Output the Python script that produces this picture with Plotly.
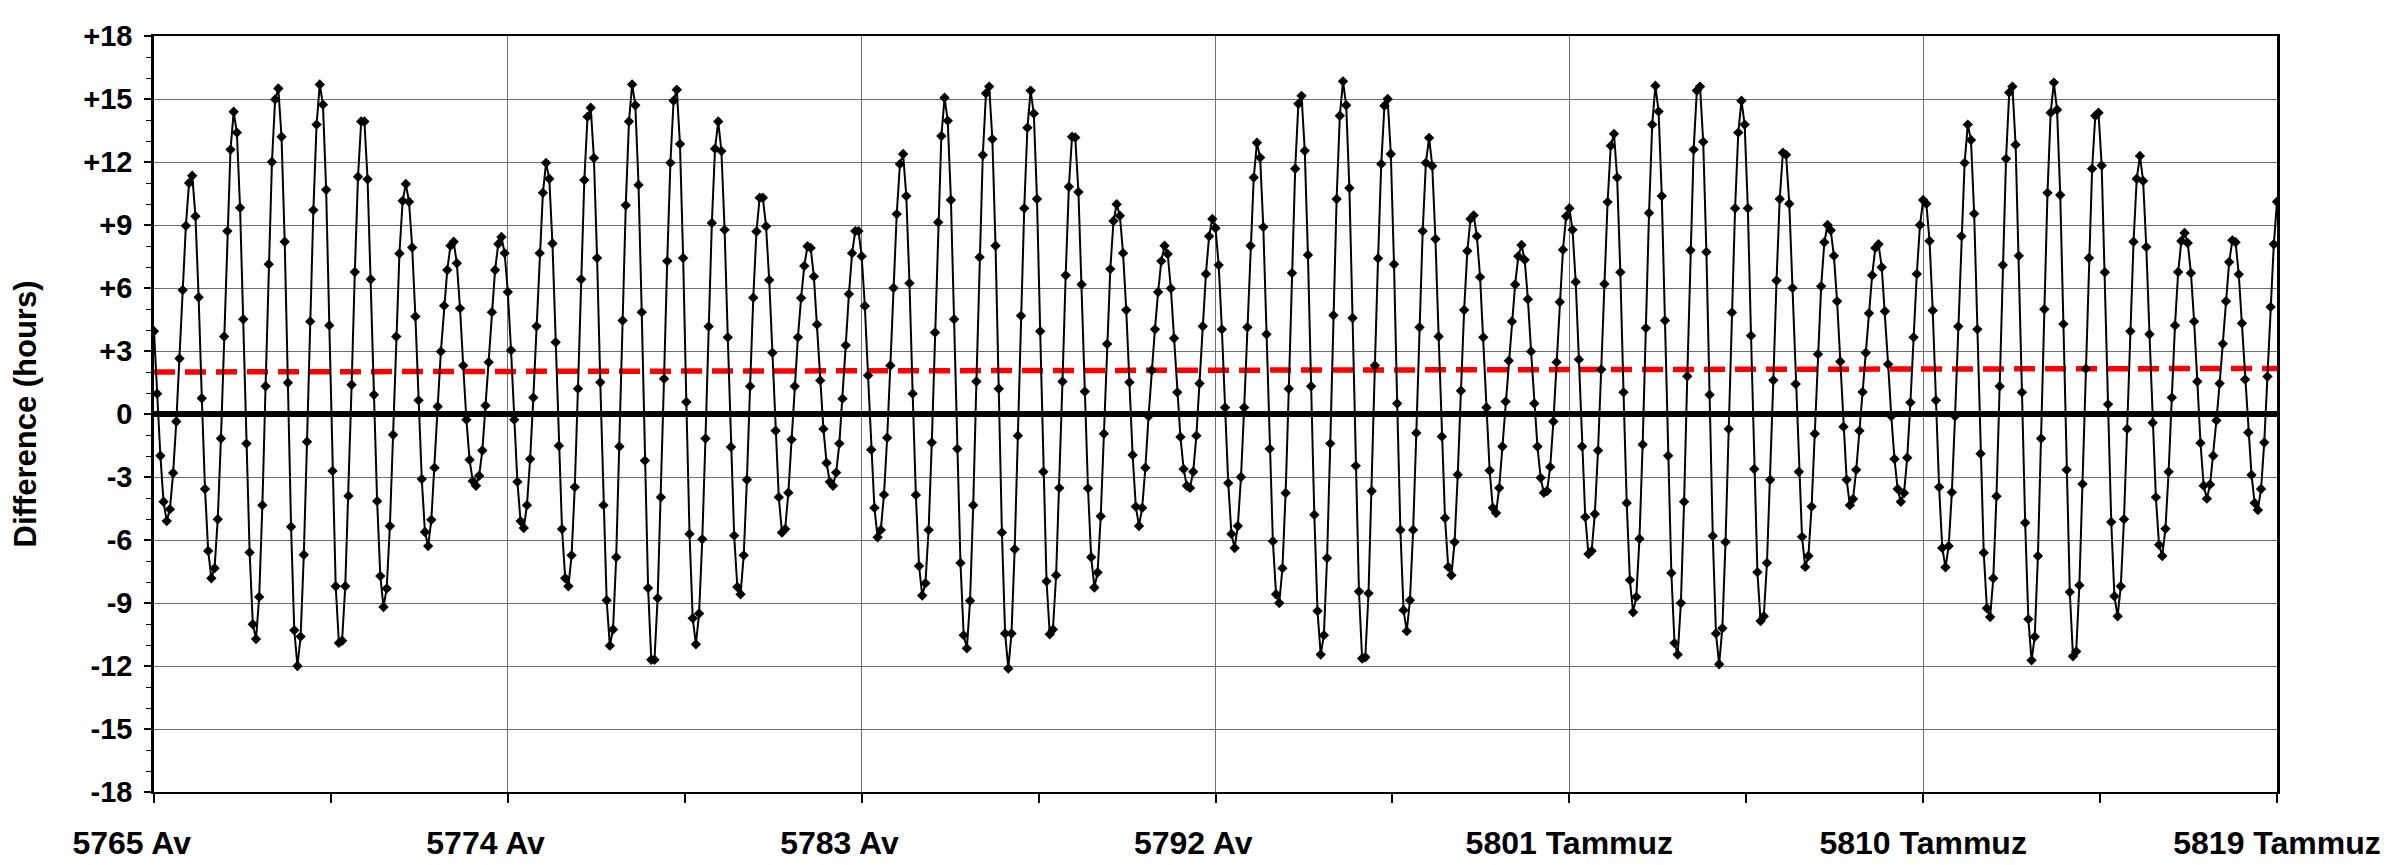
import plotly.graph_objects as go

# Difference (hours), one value per month
seg_5765 = [3.94, 0.97, -1.99, -4.18, -5.10, -4.53, -2.81, -0.36, 2.64, 5.90, 8.96, 11.0, 11.35, 9.42,
            5.56, 0.75, -3.57, -6.52, -7.82, -7.34, -5.01, -1.17, 3.69, 8.71, 12.59, 14.39, 13.40, 9.82,
            4.51, -1.41, -6.59, -10.01, -10.72, -8.71, -4.34, 1.32, 7.13, 12.0, 14.98, 15.50, 13.20, 8.20,
            1.49, -5.37, -10.30, -12.0, -10.6, -6.7, -1.32, 4.41, 9.71, 13.78, 15.69, 14.73, 10.68, 4.22,
            -2.71]
seg_b = [-8.2, -10.9, -10.8, -8.2, -3.9, 1.39, 6.76, 11.3, 13.93, 13.93, 11.18, 6.42, 0.92, -4.15,
         -7.72, -9.19, -8.31, -5.33, -0.99, 3.69, 7.64, 10.15, 10.95, 10.11, 7.93, 4.64, 0.65, -3.1,
         -5.62, -6.29, -5.04, -2.56, 0.36, 2.98, 5.16, 6.86, 8.01, 8.2, 7.18, 5.03, 2.31, -0.27, -2.18,
         -3.19, -3.42, -2.94, -1.74, 0.4, 2.47, 4.85, 6.86, 8.1, 8.43, 7.66, 5.81, 3.04]
seg_c = [-0.27, -3.23, -5.1, -5.43, -4.34, -2.14, 0.78, 4.18, 7.66, 10.53, 11.96, 11.2, 8.12, 3.42,
         -1.51, -5.48, -7.82, -8.2, -6.73, -3.48, 1.2, 6.42, 11.14, 14.16, 14.58, 12.19, 7.43, 1.51,
         -4.34, -8.87, -11.03, -10.26, -6.82, -1.55, 4.45, 9.94, 13.93, 15.69, 14.7, 10.91, 4.85, -2.22,
         -8.29, -11.7, -11.7, -8.77, -3.96, 1.68, 7.28, 11.96, 14.92, 15.44, 12.86, 7.43, 0.57, -5.71]
seg_d = [-9.73, -10.97, -9.5, -5.96, -1.17, 4.17, 9.1, 12.63, 13.93, 12.52, 8.77, 3.65, -1.57, -5.79,
         -8.24, -8.58, -6.73, -3.13, 1.32, 5.54, 8.69, 10.3, 10.3, 8.94, 6.38, 2.92, -0.8, -3.96, -5.64,
         -5.48, -3.75, -1.22, 1.32, 3.65, 5.52, 7.05, 7.99, 7.91, 6.55, 4.26, 1.6, -0.71, -2.33, -3.23,
         -3.42, -2.79, -1.41, 0.73, 3.27, 5.71, 7.66, 8.71, 8.71, 7.51, 5.14, 1.83]
seg_e = [-1.7, -4.47, -5.87, -5.52, -3.84, -1.13, 2.31, 6.0, 9.52, 11.9, 12.38, 10.38, 6.23, 0.97,
         -3.86, -7.24, -8.64, -8.06, -5.52, -1.36, 3.88, 9.13, 13.24, 15.06, 13.97, 10.19, 4.51, -1.66,
         -7.09, -10.53, -11.16, -8.89, -4.34, 1.55, 7.47, 12.33, 15.27, 15.59, 13.09, 8.01, 1.2, -5.64,
         -10.45, -12.12, -10.45, -6.44, -1.03, 4.68, 9.8, 13.63, 15.4, 14.31, 10.24, 3.94, -2.75]
seg_f = [-7.97, -10.49, -10.26, -7.68, -3.52, 1.55, 6.61, 10.82, 13.2, 13.17, 10.57, 6.17, 1.07, -3.54,
         -6.82, -8.26, -7.55, -4.87, -0.94, 3.33, 6.9, 9.19, 9.99, 9.44, 7.66, 4.95, 1.51, -1.95, -4.41,
         -5.33, -4.47, -2.56, -0.11, 2.08, 4.03, 5.81, 7.28, 8.01, 7.62, 5.98, 3.61, 1.03, -1.09, -2.62,
         -3.42, -3.52, -2.75, -1.03, 1.45, 4.18, 6.67, 8.47, 9.29, 8.85, 7.09, 4.03]
seg_g = [0.31, -3.29, -5.71, -6.38, -5.33, -3.0, 0.31, 4.13, 8.01, 11.26, 12.92, 12.21, 8.9, 3.8, -1.66,
         -6.06, -8.58, -9.0, -7.34, -3.76, 1.2, 6.71, 11.68, 14.77, 15.15, 12.54, 7.57, 1.32, -4.8,
         -9.38, -11.45, -10.53, -6.86, -1.41, 4.7, 10.24, 14.2, 15.84, 14.7, 10.76, 4.57, -2.47, -8.45,
         -11.64, -11.58, -8.54, -3.67, 2.31, 7.41, 11.91, 14.68, 15.0, 12.38, 7.13, 0.5]
seg_h = [-5.52, -9.34, -10.34, -8.87, -5.52, -0.9, 4.13, 8.71, 11.96, 13.15, 11.81, 8.33, 3.69, -1.07,
         -4.95, -7.28, -7.68, -6.1, -2.89, 1.11, 4.95, 7.76, 9.29, 9.46, 8.47, 6.52, 3.65, 0.31, -2.69,
         -4.47, -4.72, -3.52, -1.55, 0.59, 2.54, 4.41, 6.17, 7.51, 8.05, 7.34, 5.47, 2.98, 0.5, -1.55,
         -3.04, -3.75, -3.67, -2.52, -0.36, 2.47, 5.33, 7.82, 9.42, 9.8, 8.77, 6.29]
seg_i = [2.6, -1.55, -4.91, -6.67, -6.52, -4.76, -1.74, 2.12, 6.19, 10.09, 12.77, 13.34, 11.26, 6.75,
         1.03, -4.24, -7.91, -9.44, -8.71, -5.94, -1.45, 4.09, 9.57, 13.78, 15.63, 14.41, 10.38, 4.45,
         -1.99, -7.57, -10.91, -11.45, -9.0, -4.18, 1.8, 7.8, 12.59, 15.4, 15.59, 12.96, 7.72, 0.92,
         -5.81, -10.45, -11.92, -10.2, -6.1, -0.71, 4.83, 9.8, 13.4, 14.92, 13.78, 9.8, 3.73, -2.62]
seg_j = [-7.53, -9.86, -9.63, -7.09, -3.13, 1.61, 6.36, 10.24, 12.44, 12.34, 10.01, 6.0, 1.43, -2.75,
         -5.85, -7.28, -6.76, -4.41, -0.94, 2.85, 6.08, 8.18, 9.0, 8.75, 7.53, 5.37, 2.5, -0.61, -3.13,
         -4.34, -4.05, -2.66, -0.8, 1.05, 2.92, 4.8, 6.61, 7.91, 8.08, 6.99, 4.89, 2.37, -0.11, -2.14,
         -3.57, -4.18, -3.76, -2.08, 0.55, 3.65, 6.67, 9.0, 10.19, 10.01, 8.24, 4.93]
seg_k = [0.65, -3.48, -6.38, -7.3, -6.29, -3.73, -0.11, 4.17, 8.47, 11.96, 13.78, 13.05, 9.54, 4.03,
         -1.89, -6.61, -9.25, -9.67, -7.82, -3.92, 1.32, 7.09, 12.15, 15.31, 15.59, 12.82, 7.53, 1.03,
         -5.18, -9.77, -11.73, -10.61, -6.76, -1.17, 4.99, 10.53, 14.35, 15.78, 14.49, 10.43, 4.28,
         -2.66, -8.48, -11.54, -11.31, -8.16, -3.33, 2.16, 7.43, 11.68, 14.2, 14.35, 11.83, 6.75, 0.46,
         -5.14]
seg_l = [-8.68, -9.63, -8.2, -5.01, -0.71, 3.94, 8.2, 11.2, 12.29, 11.1, 7.95, 3.8, -0.42, -3.96,
         -6.23, -6.76, -5.47, -2.75, 0.78, 4.22, 6.76, 8.24, 8.62, 8.14, 6.71, 4.41, 1.55, -1.38, -3.42,
         -4.03, -3.36, -1.99, -0.31, 1.45, 3.34, 5.37, 7.24, 8.27, 8.18, 6.65, 4.32, 1.64, -0.88, -2.9,
         -4.24, -4.57, -3.57, -1.36, 1.78, 5.1, 8.08, 10.11]

diff_hours = (seg_5765 + seg_b + seg_c + seg_d + seg_e + seg_f + seg_g + seg_h + seg_i + seg_j
              + seg_k + seg_l)

# average (red dashed) line: value at start and end
trend_start = 2.0
trend_end = 2.17

x_tick_labels = ["5765 Av", "5774 Av", "5783 Av", "5792 Av",
                 "5801 Tammuz", "5810 Tammuz", "5819 Tammuz"]
y_tick_values = list(range(-18, 19, 3))
y_tick_labels = [("+%d" % v) if v > 0 else str(v) for v in y_tick_values]

n = len(diff_hours)
months = list(range(n))
last = n - 1
step = last / (len(x_tick_labels) - 1)
x_tick_vals = [i * step for i in range(len(x_tick_labels))]
x_minor_vals = [(i + 0.5) * step for i in range(len(x_tick_labels) - 1)]
# the short "Av" labels sit slightly left of their gridline in the reference
x_tick_text = [t + ("\u00a0" * 5 if t.endswith("Av") else "") for t in x_tick_labels]

FONT = "Liberation Sans, Arial, sans-serif"
GRID = "#6e6e6e"

fig = go.Figure()
fig.add_trace(go.Scatter(
    x=[0, last], y=[trend_start, trend_end], mode="lines",
    line=dict(color="#ff0000", width=5.5, dash="21px,10px"),
    hoverinfo="skip", showlegend=False))
fig.add_trace(go.Scatter(
    x=months, y=diff_hours, mode="lines+markers",
    line=dict(color="black", width=2),
    marker=dict(symbol="diamond", size=8, color="black"),
    showlegend=False))

fig.update_layout(
    width=2404, height=865,
    margin=dict(l=146, r=135, t=28, b=68),
    paper_bgcolor="white", plot_bgcolor="white",
    font=dict(family=FONT, color="black"),
    showlegend=False,
)
fig.update_xaxes(
    range=[0, last], tickmode="array", tickvals=x_tick_vals, ticktext=x_tick_text,
    tickfont=dict(size=32, weight="bold", family=FONT, color="black"),
    ticks="outside", ticklen=9, tickwidth=1.5, tickcolor="black", ticklabelstandoff=13,
    showgrid=True, gridcolor=GRID, gridwidth=1.2,
    showline=True, linecolor="black", linewidth=2, mirror=True,
    zeroline=False,
    minor=dict(tickmode="array", tickvals=x_minor_vals, ticks="outside", ticklen=9,
               tickwidth=1.5, tickcolor="black", showgrid=False),
)
fig.update_yaxes(
    range=[-18, 18], tickmode="array", tickvals=y_tick_values, ticktext=y_tick_labels,
    tickfont=dict(size=29, weight="bold", family=FONT, color="black"),
    ticks="outside", ticklen=7, tickwidth=1.5, tickcolor="black", ticklabelstandoff=6,
    showgrid=True, gridcolor=GRID, gridwidth=1.2,
    showline=True, linecolor="black", linewidth=2.5, mirror=True,
    zeroline=True, zerolinecolor="black", zerolinewidth=6,
    minor=dict(dtick=1, tick0=0, ticks="outside", ticklen=5, tickwidth=1.2,
               tickcolor="black", showgrid=False),
    title=dict(text="Difference (hours)", standoff=38,
               font=dict(size=31, weight="bold", family=FONT, color="black")),
)

fig.write_html("out.html")
